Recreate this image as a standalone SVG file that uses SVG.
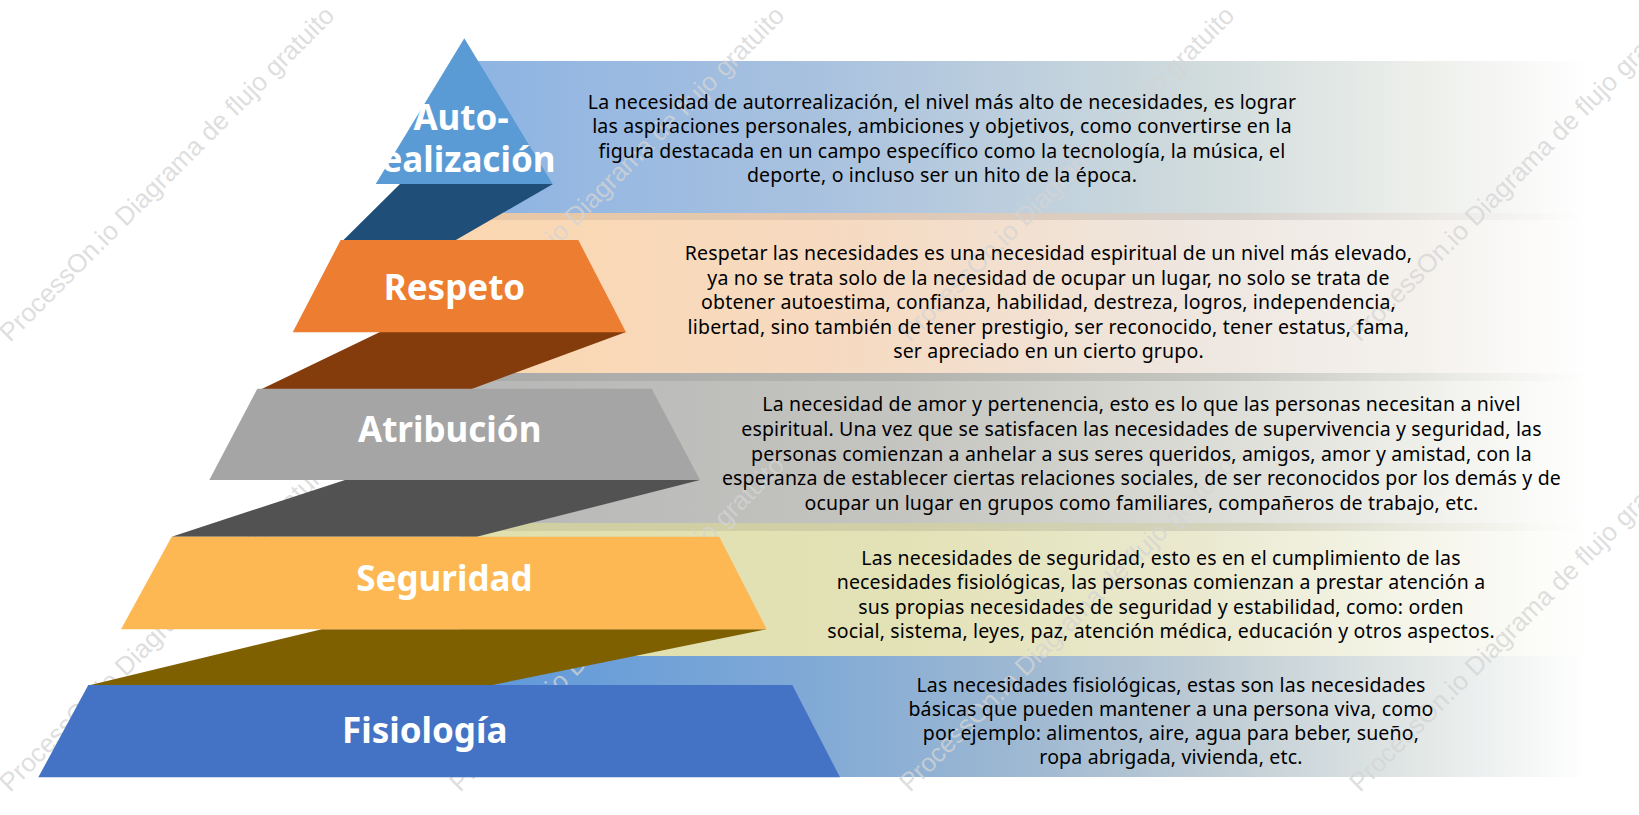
<svg xmlns="http://www.w3.org/2000/svg" width="1639" height="815" viewBox="0 0 1639 815">
<style>
.lbl{font-family:"Noto Sans","Open Sans",sans-serif;font-weight:bold;font-size:35px;fill:#ffffff;text-anchor:middle}
.txt{font-family:"Noto Sans","Open Sans",sans-serif;font-size:19.5px;letter-spacing:0.17px;fill:#000000;text-anchor:middle}
.wm{font-family:"Liberation Sans",Arial,sans-serif;font-size:26px;fill:#d4d4d4;fill-opacity:0.75}
</style>
<defs>
<linearGradient id="g1" gradientUnits="userSpaceOnUse" x1="476" y1="0" x2="1590" y2="0">
<stop offset="0" stop-color="#8EB4E3"/><stop offset="0.3" stop-color="#A8C1DF"/><stop offset="0.65" stop-color="#D0DBDC"/><stop offset="0.85" stop-color="#EDEFEB"/><stop offset="1" stop-color="#FFFFFF"/>
</linearGradient>
<linearGradient id="g2" gradientUnits="userSpaceOnUse" x1="440" y1="0" x2="1590" y2="0">
<stop offset="0" stop-color="#FBD7B0"/><stop offset="0.35" stop-color="#F6DAC1"/><stop offset="0.65" stop-color="#EEE6DF"/><stop offset="0.85" stop-color="#F4F1ED"/><stop offset="1" stop-color="#FFFFFF"/>
</linearGradient>
<linearGradient id="g3" gradientUnits="userSpaceOnUse" x1="440" y1="0" x2="1590" y2="0">
<stop offset="0" stop-color="#B6B6B6"/><stop offset="0.4" stop-color="#C4C4C0"/><stop offset="0.65" stop-color="#DADAD4"/><stop offset="0.85" stop-color="#EFEFEA"/><stop offset="1" stop-color="#FFFFFF"/>
</linearGradient>
<linearGradient id="g4" gradientUnits="userSpaceOnUse" x1="460" y1="0" x2="1590" y2="0">
<stop offset="0" stop-color="#E0DFAD"/><stop offset="0.4" stop-color="#E3E2B7"/><stop offset="0.65" stop-color="#EAE9CF"/><stop offset="0.85" stop-color="#F5F5EA"/><stop offset="1" stop-color="#FFFFFF"/>
</linearGradient>
<linearGradient id="g5" gradientUnits="userSpaceOnUse" x1="470" y1="0" x2="1590" y2="0">
<stop offset="0" stop-color="#5E98DA"/><stop offset="0.3" stop-color="#80A9D6"/><stop offset="0.5" stop-color="#9FB9D2"/><stop offset="0.65" stop-color="#BCCAD4"/><stop offset="0.82" stop-color="#DDE3E2"/><stop offset="1" stop-color="#FFFFFF"/>
</linearGradient>
<linearGradient id="sh" gradientUnits="userSpaceOnUse" x1="440" y1="0" x2="1590" y2="0">
<stop offset="0" stop-color="#000" stop-opacity="0.07"/><stop offset="0.7" stop-color="#000" stop-opacity="0.1"/><stop offset="1" stop-color="#000" stop-opacity="0"/>
</linearGradient>
</defs>
<rect width="1639" height="815" fill="#ffffff"/>
<g id="bands">
<rect x="476" y="61" width="1114" height="152" fill="url(#g1)"/>
<rect x="440" y="213" width="1150" height="160" fill="url(#g2)"/>
<rect x="440" y="213" width="1150" height="7" fill="url(#sh)"/>
<rect x="440" y="373" width="1150" height="150" fill="url(#g3)"/>
<rect x="440" y="373" width="1150" height="8" fill="url(#sh)"/>
<rect x="460" y="523" width="1130" height="133" fill="url(#g4)"/>
<rect x="460" y="523" width="1130" height="8" fill="url(#sh)"/>
<rect x="470" y="656" width="1120" height="121" fill="url(#g5)"/>
</g>
<g id="watermark">
<text class="wm" transform="translate(10,343) rotate(-45)">ProcessOn.io Diagrama de flujo gratuito</text>
<text class="wm" transform="translate(460,343) rotate(-45)">ProcessOn.io Diagrama de flujo gratuito</text>
<text class="wm" transform="translate(910,343) rotate(-45)">ProcessOn.io Diagrama de flujo gratuito</text>
<text class="wm" transform="translate(1360,343) rotate(-45)">ProcessOn.io Diagrama de flujo gratuito</text>
<text class="wm" transform="translate(10,793) rotate(-45)">ProcessOn.io Diagrama de flujo gratuito</text>
<text class="wm" transform="translate(460,793) rotate(-45)">ProcessOn.io Diagrama de flujo gratuito</text>
<text class="wm" transform="translate(910,793) rotate(-45)">ProcessOn.io Diagrama de flujo gratuito</text>
<text class="wm" transform="translate(1360,793) rotate(-45)">ProcessOn.io Diagrama de flujo gratuito</text>
</g>
<g id="sides">
<polygon points="400,184 553,184 455,240.5 343,240.5" fill="#1F4E79"/>
<polygon points="380,332 626,332 471.7,389 261.7,389" fill="#843C0C"/>
<polygon points="345,480 700,480 476.7,536.7 171.7,536.7" fill="#525252"/>
<polygon points="321.7,629.3 766.7,629.3 490,685.5 88.3,685.5" fill="#7F6000"/>
</g>
<g id="level-autorrealizacion">
<polygon points="464.3,38.3 552.7,184 375.7,184" fill="#5B9BD5"/>
<text class="lbl" x="461" y="130">Auto-</text>
<text class="lbl" x="461" y="171.7">realización</text>
</g>
<g id="level-respeto">
<polygon points="340.7,240 578.3,240 626,332.3 292.7,332.3" fill="#ED7D31"/>
<text class="lbl" x="454.5" y="300">Respeto</text>
</g>
<g id="level-atribucion">
<polygon points="257.3,388.7 651.7,388.7 700,480 209.3,480" fill="#A5A5A5"/>
<text class="lbl" x="449.7" y="441.7">Atribución</text>
</g>
<g id="level-seguridad">
<polygon points="171.7,536.7 719.3,536.7 766.7,629.3 121,629.3" fill="#FDB853"/>
<text class="lbl" x="444.5" y="590.7">Seguridad</text>
</g>
<g id="level-fisiologia">
<polygon points="88.3,685 792.3,685 840,777.3 38.3,777.3" fill="#4472C4"/>
<text class="lbl" x="424.7" y="743.3">Fisiología</text>
</g>
<g id="desc-autorrealizacion">
<text class="txt" x="942" y="109">La necesidad de autorrealización, el nivel más alto de necesidades, es lograr</text>
<text class="txt" x="942" y="133.3">las aspiraciones personales, ambiciones y objetivos, como convertirse en la</text>
<text class="txt" x="942" y="157.7">figura destacada en un campo específico como la tecnología, la música, el</text>
<text class="txt" x="942" y="182">deporte, o incluso ser un hito de la época.</text>
</g>
<g id="desc-respeto">
<text class="txt" x="1048.5" y="260">Respetar las necesidades es una necesidad espiritual de un nivel más elevado,</text>
<text class="txt" x="1048.5" y="284.5">ya no se trata solo de la necesidad de ocupar un lugar, no solo se trata de</text>
<text class="txt" x="1048.5" y="309">obtener autoestima, confianza, habilidad, destreza, logros, independencia,</text>
<text class="txt" x="1048.5" y="333.5">libertad, sino también de tener prestigio, ser reconocido, tener estatus, fama,</text>
<text class="txt" x="1048.5" y="358">ser apreciado en un cierto grupo.</text>
</g>
<g id="desc-atribucion">
<text class="txt" x="1141.5" y="410.5">La necesidad de amor y pertenencia, esto es lo que las personas necesitan a nivel</text>
<text class="txt" x="1141.5" y="435.5">espiritual. Una vez que se satisfacen las necesidades de supervivencia y seguridad, las</text>
<text class="txt" x="1141.5" y="460.5">personas comienzan a anhelar a sus seres queridos, amigos, amor y amistad, con la</text>
<text class="txt" x="1141.5" y="485">esperanza de establecer ciertas relaciones sociales, de ser reconocidos por los demás y de</text>
<text class="txt" x="1141.5" y="509.5">ocupar un lugar en grupos como familiares, compañeros de trabajo, etc.</text>
</g>
<g id="desc-seguridad">
<text class="txt" x="1161" y="565">Las necesidades de seguridad, esto es en el cumplimiento de las</text>
<text class="txt" x="1161" y="589.3">necesidades fisiológicas, las personas comienzan a prestar atención a</text>
<text class="txt" x="1161" y="613.6">sus propias necesidades de seguridad y estabilidad, como: orden</text>
<text class="txt" x="1161" y="638">social, sistema, leyes, paz, atención médica, educación y otros aspectos.</text>
</g>
<g id="desc-fisiologia">
<text class="txt" x="1171" y="691.5">Las necesidades fisiológicas, estas son las necesidades</text>
<text class="txt" x="1171" y="715.7">básicas que pueden mantener a una persona viva, como</text>
<text class="txt" x="1171" y="740">por ejemplo: alimentos, aire, agua para beber, sueño,</text>
<text class="txt" x="1171" y="764.2">ropa abrigada, vivienda, etc.</text>
</g>
</svg>
